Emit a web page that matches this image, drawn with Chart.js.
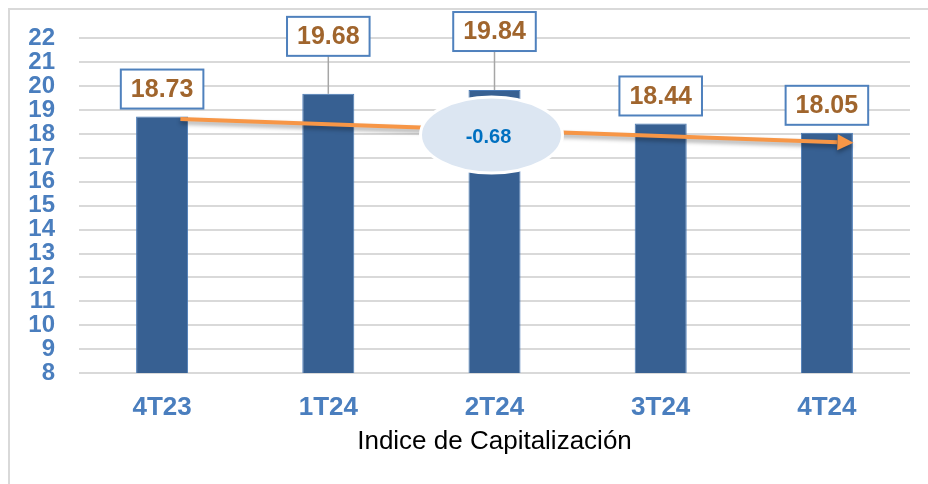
<!DOCTYPE html>
<html>
<head>
<meta charset="utf-8">
<script src="https://cdn.jsdelivr.net/npm/chart.js@4.4.1/dist/chart.umd.min.js"></script>
<style>
  html, body { margin: 0; padding: 0; background: #fff; }
  #wrap { width: 928px; height: 484px; position: relative; }
</style>
</head>
<body>
<div id="wrap"><canvas id="chart"></canvas></div>
<script>
// Data
const categories = ['4T23', '1T24', '2T24', '3T24', '4T24']
const capIndex = [18.73, 19.68, 19.84, 18.44, 18.05]
const yTicks = [8, 9, 10, 11, 12, 13, 14, 15, 16, 17, 18, 19, 20, 21, 22]
const axisTitle = 'Indice de Capitalización'

// Trend arrow anchors (category index, value) and bubble anchor
const trendStart = [0.11, 18.63]
const trendEnd = [4.16, 17.63]
const bubbleAt = [2, 17.96]

// Extra lift (px) of the value boxes above their bar
const labelLift = [8, 38, 39, 8, 8]

const BLUE_TXT = '#4A7EBE'
const BROWN = '#A0652D'
const FONT = '"Liberation Sans", Arial, sans-serif'

const frame = {
  id: 'frame',
  beforeDraw(chart) {
    const ctx = chart.ctx
    ctx.save()
    ctx.fillStyle = '#fff'
    ctx.fillRect(0, 0, chart.width, chart.height)
    ctx.strokeStyle = '#D9D9D9'
    ctx.lineWidth = 2
    ctx.strokeRect(9, 9, chart.width + 20, chart.height + 20)
    ctx.restore()
  }
}

const overlay = {
  id: 'overlay',
  afterDatasetsDraw(chart) {
    const ctx = chart.ctx
    const xs = chart.scales.x
    const ys = chart.scales.y
    const meta = chart.getDatasetMeta(0)

    // trend arrow
    const x1 = xs.getPixelForValue(trendStart[0]), y1 = ys.getPixelForValue(trendStart[1])
    const x2 = xs.getPixelForValue(trendEnd[0]), y2 = ys.getPixelForValue(trendEnd[1])
    const ang = Math.atan2(y2 - y1, x2 - x1)
    const headLen = 16, headW = 8
    const bx = x2 - headLen * Math.cos(ang), by = y2 - headLen * Math.sin(ang)
    ctx.save()
    ctx.shadowColor = 'rgba(0,0,0,0.35)'
    ctx.shadowBlur = 4
    ctx.shadowOffsetY = 3
    ctx.strokeStyle = '#F79646'
    ctx.fillStyle = '#F79646'
    ctx.lineWidth = 4
    ctx.beginPath()
    ctx.moveTo(x1, y1)
    ctx.lineTo(bx, by)
    ctx.stroke()
    ctx.beginPath()
    ctx.moveTo(x2, y2)
    ctx.lineTo(bx + headW * Math.sin(ang), by - headW * Math.cos(ang))
    ctx.lineTo(bx - headW * Math.sin(ang), by + headW * Math.cos(ang))
    ctx.closePath()
    ctx.fill()
    ctx.restore()

    // change bubble
    const cx = xs.getPixelForValue(bubbleAt[0]) - 3, cy = ys.getPixelForValue(bubbleAt[1])
    ctx.save()
    ctx.beginPath()
    ctx.ellipse(cx, cy, 71, 38, 0, 0, Math.PI * 2)
    ctx.fillStyle = '#DCE6F2'
    ctx.fill()
    ctx.lineWidth = 3
    ctx.strokeStyle = '#fff'
    ctx.stroke()
    const diff = capIndex[capIndex.length - 1] - capIndex[0]
    ctx.fillStyle = '#0070C0'
    ctx.font = 'bold 20px ' + FONT
    ctx.textAlign = 'center'
    ctx.textBaseline = 'middle'
    ctx.fillText(diff.toFixed(2), cx - 3, cy + 3)
    ctx.restore()

    // value boxes
    ctx.save()
    ctx.font = 'bold 25px ' + FONT
    ctx.textAlign = 'center'
    ctx.textBaseline = 'middle'
    meta.data.forEach((bar, i) => {
      const txt = capIndex[i].toFixed(2)
      const w = ctx.measureText(txt).width + 20
      const h = 39
      const bottom = bar.y - labelLift[i]
      const top = bottom - h
      if (labelLift[i] > 10) {
        ctx.strokeStyle = '#A6A6A6'
        ctx.lineWidth = 1.5
        ctx.beginPath()
        ctx.moveTo(bar.x, bottom)
        ctx.lineTo(bar.x, bar.y)
        ctx.stroke()
      }
      ctx.fillStyle = '#fff'
      ctx.fillRect(bar.x - w / 2, top, w, h)
      ctx.strokeStyle = '#4F81BD'
      ctx.lineWidth = 2
      ctx.strokeRect(bar.x - w / 2, top, w, h)
      ctx.fillStyle = BROWN
      ctx.fillText(txt, bar.x, top + h / 2 + 1)
    })
    ctx.restore()
  }
}

new Chart(document.getElementById('chart'), {
  type: 'bar',
  data: {
    labels: categories,
    datasets: [{
      data: capIndex,
      backgroundColor: '#376092',
      borderColor: '#4A7BB7',
      borderWidth: 1,
      categoryPercentage: 1,
      barPercentage: 0.313
    }]
  },
  options: {
    responsive: true,
    maintainAspectRatio: false,
    animation: false,
    layout: { padding: { left: 0, top: 37, right: 18, bottom: 0 } },
    plugins: { legend: { display: false }, tooltip: { enabled: false } },
    scales: {
      x: {
        afterFit(scale) { scale.height = 111 },
        grid: { display: false, drawTicks: false },
        border: { display: false },
        ticks: {
          color: BLUE_TXT,
          padding: 19,
          font: { family: FONT, size: 26, weight: 'bold' }
        },
        title: {
          display: true,
          text: axisTitle,
          color: '#000',
          padding: { top: 0, bottom: 27 },
          font: { family: FONT, size: 26, weight: 'normal' }
        }
      },
      y: {
        min: yTicks[0],
        max: yTicks[yTicks.length - 1],
        afterFit(scale) { scale.width = 79 },
        afterBuildTicks(scale) { scale.ticks = yTicks.map(v => ({ value: v })) },
        grid: { color: '#D9D9D9', lineWidth: 2, drawTicks: false },
        border: { display: false },
        ticks: {
          autoSkip: false,
          color: BLUE_TXT,
          padding: 24,
          font: { family: FONT, size: 24, weight: 'bold' }
        }
      }
    }
  },
  plugins: [frame, overlay]
})
</script>
</body>
</html>
